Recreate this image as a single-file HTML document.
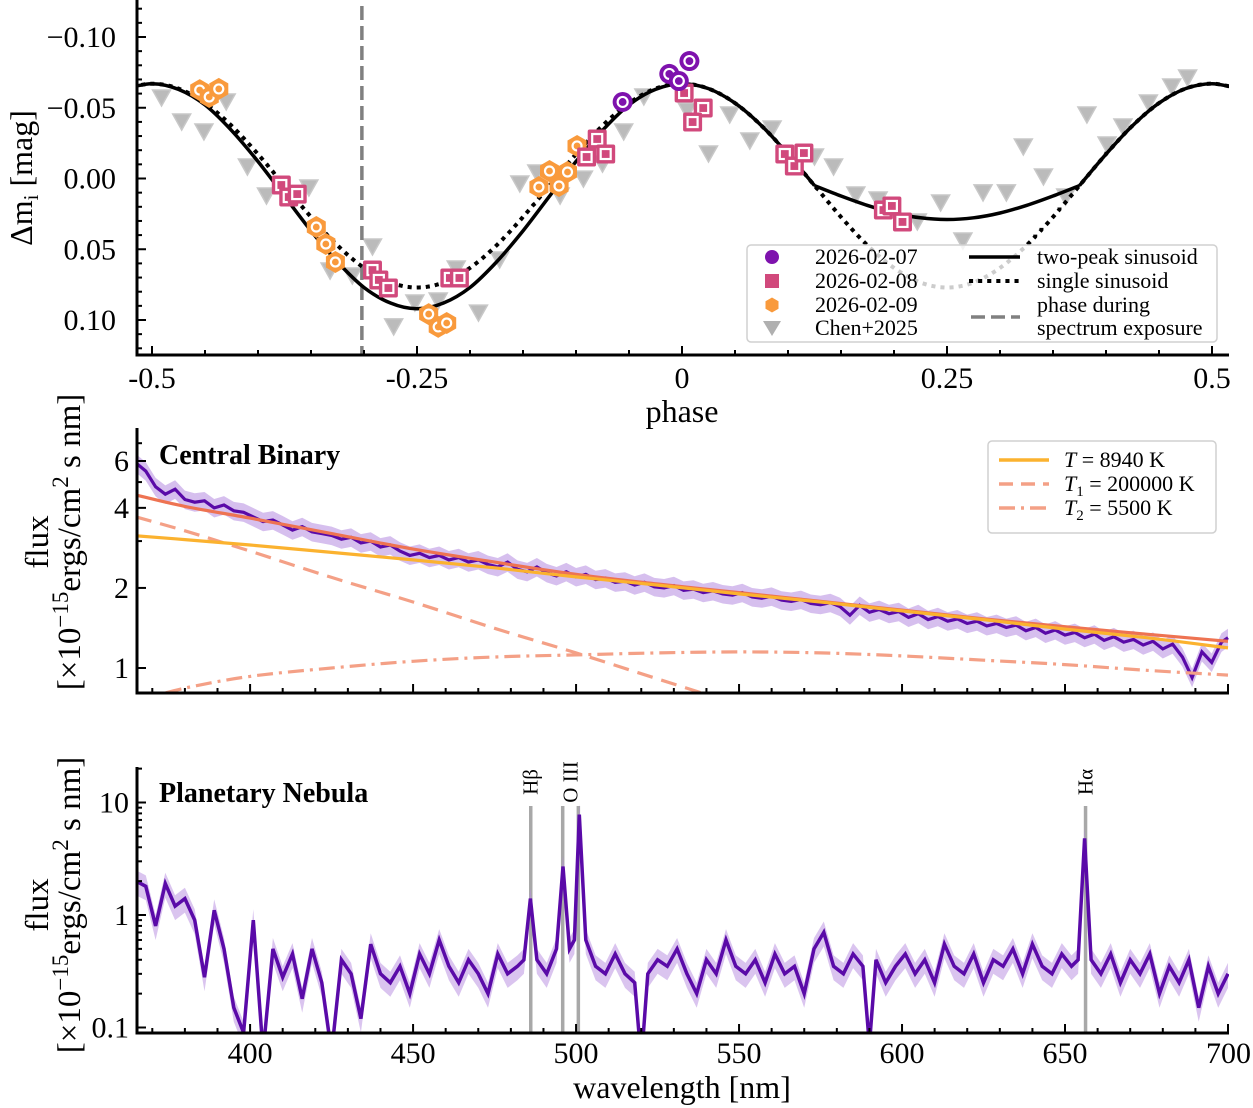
<!DOCTYPE html>
<html><head><meta charset="utf-8">
<style>
html,body{margin:0;padding:0;background:#fff;}
svg{display:block;font-family:"Liberation Serif",serif;}
</style></head>
<body>
<svg id="fig" width="1253" height="1108" viewBox="0 0 1253 1108" xmlns="http://www.w3.org/2000/svg">
<defs>
<clipPath id="clipTop"><rect x="137" y="0" width="1092" height="355"/></clipPath>
<clipPath id="clipMid"><rect x="137" y="428" width="1092" height="265"/></clipPath>
<clipPath id="clipBot"><rect x="137" y="767" width="1092" height="266"/></clipPath>
</defs>
<g id="topPanel"></g>
<g id="midPanel"></g>
<g id="botPanel"></g>
</svg>
<script>
// ---------- Light curve data ----------
const curvePhase = [-0.525,-0.5,-0.475,-0.45,-0.425,-0.4,-0.375,-0.35,-0.325,-0.3,-0.275,-0.25,-0.225,-0.2,-0.175,-0.15,-0.125,-0.1,-0.075,-0.05,-0.025,0,0.025,0.05,0.075,0.1,0.125,0.15,0.175,0.2,0.225,0.25,0.275,0.3,0.325,0.35,0.375,0.4,0.425,0.45,0.475,0.5,0.525];
const twoPeak = [-0.0635,-0.067,-0.063,-0.052,-0.034,-0.012,0.0125,0.037,0.059,0.077,0.088,0.092,0.088,0.077,0.059,0.037,0.0125,-0.012,-0.034,-0.052,-0.063,-0.067,-0.0635,-0.0533,-0.0373,-0.0172,0.005,0.0124,0.019,0.0244,0.0278,0.029,0.0278,0.0244,0.019,0.0124,0.005,-0.0172,-0.0373,-0.0533,-0.0635,-0.067,-0.0635];
const singleSin = [-0.0635,-0.067,-0.0635,-0.0533,-0.0373,-0.0172,0.005,0.0272,0.0473,0.0632,0.0735,0.077,0.0735,0.0632,0.0473,0.0272,0.005,-0.0172,-0.0373,-0.0533,-0.0635,-0.067,-0.0635,-0.0533,-0.0373,-0.0172,0.005,0.0272,0.0473,0.0632,0.0735,0.077,0.0735,0.0632,0.0473,0.0272,0.005,-0.0172,-0.0373,-0.0533,-0.0635,-0.067,-0.0635];
const spectrumPhase = -0.302;
const d07Phase = [-0.056,-0.012,-0.003,0.007];
const d07Mag = [-0.0541,-0.0739,-0.0689,-0.0830];
const d08Phase = [-0.378,-0.371,-0.363,-0.292,-0.286,-0.277,-0.219,-0.210,-0.090,-0.080,-0.072,0.002,0.020,0.010,0.097,0.106,0.115,0.190,0.198,0.208];
const d08Mag = [0.0046,0.0131,0.0110,0.0647,0.0717,0.0774,0.0703,0.0703,-0.0152,-0.0279,-0.0173,-0.0604,-0.0498,-0.0399,-0.0173,-0.0088,-0.0180,0.0223,0.0194,0.0307];
const d09Phase = [-0.455,-0.446,-0.437,-0.345,-0.336,-0.327,-0.239,-0.230,-0.222,-0.135,-0.125,-0.116,-0.108,-0.099];
const d09Mag = [-0.0625,-0.0576,-0.0633,0.0343,0.0463,0.0590,0.0958,0.1049,0.1021,0.0060,-0.0053,0.0053,-0.0046,-0.0230];
const chenPhase = [-0.491,-0.472,-0.451,-0.430,-0.410,-0.392,-0.352,-0.332,-0.311,-0.292,-0.272,-0.252,-0.230,-0.213,-0.192,-0.172,-0.153,-0.137,-0.115,-0.093,-0.075,-0.055,-0.036,0.005,0.025,0.045,0.064,0.085,0.125,0.143,0.164,0.185,0.222,0.244,0.265,0.284,0.306,0.322,0.341,0.362,0.382,0.401,0.416,0.440,0.462,0.477];
const chenMag = [-0.0569,-0.0399,-0.0329,-0.0541,-0.0081,0.0124,0.0067,0.0654,0.0689,0.0484,0.1049,0.0880,0.0866,0.0640,0.0951,0.0576,0.0039,-0.0039,0.0124,0.0004,-0.0102,-0.0329,-0.0576,-0.0477,-0.0173,-0.0449,-0.0265,-0.0350,-0.0152,-0.0081,0.0117,0.0152,0.0307,0.0173,0.0442,0.0102,0.0102,-0.0223,-0.0011,0.0131,-0.0449,-0.0237,-0.0364,-0.0534,-0.0647,-0.0710];
const phaseTicks = [-0.5,-0.25,0,0.25,0.5];
const phaseTickLabels = ["-0.5","-0.25","0","0.25","0.5"];
const magTicks = [-0.10,-0.05,0,0.05,0.10];
const magTickLabels = ["\u22120.10","\u22120.05","0.00","0.05","0.10"];

// ---------- Central binary data ----------
const modelWl = [365,380,400,425,450,475,500,525,550,575,600,625,650,675,700];
const modelSum = [4.47,4.05,3.66,3.2,2.8,2.5,2.25,2.07,1.92,1.78,1.65,1.53,1.43,1.34,1.26];
const modelT = [3.14,3.04,2.9,2.72,2.55,2.38,2.2,2.05,1.9,1.77,1.64,1.52,1.4,1.3,1.19];
const modelT1 = [3.7,3.28,2.75,2.19,1.77,1.41,1.14,0.91,0.73,0.6,0.5,0.4,0.33,0.27,0.22];
const modelT2 = [0.75,0.84,0.93,1.0,1.06,1.1,1.12,1.14,1.15,1.14,1.11,1.07,1.03,0.98,0.94];
const cbWl = [365,368,371,374,377,380,383,386,389,392,395,398,401,404,407,410,413,416,419,422,425,428,431,434,437,440,443,446,449,452,455,458,461,464,467,470,473,476,479,482,485,488,491,494,497,500,503,506,509,512,515,518,521,524,527,530,533,536,539,542,545,548,551,554,557,560,563,566,569,572,575,578,581,584,587,590,593,596,599,602,605,608,611,614,617,620,623,626,629,632,635,638,641,644,647,650,653,656,659,662,665,668,671,674,677,680,683,686,689,692,695,698,700];
const cbFlux = [5.9,5.5,4.8,4.5,4.7,4.3,4.2,4.25,4.0,4.1,3.9,3.85,3.7,3.55,3.6,3.45,3.3,3.4,3.25,3.2,3.15,3.05,3.1,2.95,3.0,2.85,2.9,2.75,2.65,2.7,2.6,2.65,2.55,2.6,2.5,2.55,2.45,2.4,2.5,2.35,2.3,2.4,2.28,2.22,2.3,2.2,2.25,2.15,2.18,2.1,2.12,2.05,2.1,2.02,2.0,2.04,1.96,1.98,1.92,1.95,1.9,1.88,1.92,1.85,1.83,1.86,1.8,1.78,1.81,1.75,1.73,1.76,1.7,1.58,1.72,1.62,1.66,1.6,1.63,1.55,1.6,1.52,1.56,1.5,1.53,1.47,1.5,1.44,1.47,1.42,1.45,1.38,1.42,1.35,1.39,1.33,1.36,1.3,1.34,1.27,1.31,1.25,1.28,1.22,1.26,1.18,1.23,1.1,0.92,1.15,1.05,1.25,1.3];
const cbErrFrac = 0.08;
const cbTicks = [1,2,4,6];
const cbTickLabels = ["1","2","4","6"];

// ---------- Nebula data ----------
const nebWl = [365,368,371,374,377,380,383,386,389,392,395,398,401,404,407,410,413,416,419,422,425,428,431,434,437,440,443,446,449,452,455,458,461,464,467,470,473,476,479,482,484,486,488,491,494,496,498,499.5,501,503,506,509,512,515,518,520,522,525,528,531,534,537,540,543,546,549,552,555,558,561,564,567,570,573,576,579,582,585,588,590,592,595,598,601,604,607,610,613,616,619,622,625,628,631,634,637,640,643,646,649,652,654,656,658,661,664,667,670,673,676,679,682,685,688,691,694,697,700];
const nebFlux = [2.0,1.8,0.8,1.9,1.2,1.4,0.9,0.28,1.1,0.5,0.15,0.09,0.9,0.06,0.5,0.28,0.45,0.18,0.5,0.25,0.06,0.4,0.3,0.12,0.55,0.3,0.25,0.35,0.2,0.45,0.3,0.6,0.35,0.25,0.4,0.3,0.2,0.45,0.3,0.35,0.4,1.4,0.4,0.3,0.5,2.7,0.5,0.6,7.8,0.6,0.35,0.3,0.45,0.3,0.25,0.05,0.3,0.4,0.35,0.5,0.3,0.2,0.4,0.3,0.6,0.35,0.3,0.4,0.25,0.45,0.3,0.35,0.2,0.5,0.7,0.35,0.3,0.45,0.35,0.07,0.4,0.25,0.35,0.45,0.3,0.4,0.25,0.55,0.35,0.3,0.45,0.25,0.4,0.35,0.5,0.3,0.55,0.35,0.3,0.45,0.35,0.4,4.8,0.4,0.3,0.45,0.25,0.4,0.3,0.45,0.2,0.35,0.25,0.4,0.15,0.35,0.2,0.3];
const nebErrFrac = 0.25;
const lineWl = [486.1,495.9,500.7,656.3];
const lineLabelWl = [486.1,498.3,656.3];
const lineLabels = ["H\u03b2","O III","H\u03b1"];
const nebTicks = [0.1,1,10];
const nebTickLabels = ["0.1","1","10"];
const wlTicks = [400,450,500,550,600,650,700];
const wlTickLabels = ["400","450","500","550","600","650","700"];

// ---------- scales ----------
const px = p => 682 + 1060*p;
const py = m => 178.5 + 1415*m;
const wx = l => 136 + (l-365)*3.2597;
const my = f => 668 - 266*Math.log10(f);
const by = f => 915 - 112.5*Math.log10(f);

const NS = "http://www.w3.org/2000/svg";
function mk(tag, parent){ const el=document.createElementNS(NS,tag); parent.appendChild(el); return el; }
function smooth(pts){
  let d="M"+pts[0][0].toFixed(1)+","+pts[0][1].toFixed(1);
  for(let i=0;i<pts.length-1;i++){
    const p0=pts[Math.max(0,i-1)],p1=pts[i],p2=pts[i+1],p3=pts[Math.min(pts.length-1,i+2)];
    const c1=[p1[0]+(p2[0]-p0[0])/6,p1[1]+(p2[1]-p0[1])/6];
    const c2=[p2[0]-(p3[0]-p1[0])/6,p2[1]-(p3[1]-p1[1])/6];
    d+="C"+c1[0].toFixed(1)+","+c1[1].toFixed(1)+" "+c2[0].toFixed(1)+","+c2[1].toFixed(1)+" "+p2[0].toFixed(1)+","+p2[1].toFixed(1);
  }
  return d;
}
function poly(pts){ return "M"+pts.map(p=>p[0].toFixed(1)+","+p[1].toFixed(1)).join("L"); }
function txt(parent,x,y,s,size,anchor){
  const el=mk("text",parent); el.setAttribute("x",x); el.setAttribute("y",y);
  el.setAttribute("font-size",size); el.setAttribute("text-anchor",anchor||"middle"); el.textContent=s; return el;
}
const TICKFS = 30;

// ================= TOP PANEL =================
const topG=document.getElementById("topPanel");
const topPlot=mk("g",topG); topPlot.setAttribute("clip-path","url(#clipTop)");



chenPhase.forEach((p,i)=>{
  const x=px(p), y=py(chenMag[i]);
  const el=mk("path",topPlot);
  el.setAttribute("d",`M${x-9},${y-8}L${x+9},${y-8}L${x},${y+8}Z`);
  el.setAttribute("fill","#aaaaaa"); el.setAttribute("fill-opacity","0.8");
  el.setAttribute("stroke","#c8c8c8"); el.setAttribute("stroke-width","1.5");
  
  
});
const vl=mk("line",topPlot);
vl.setAttribute("x1",px(spectrumPhase)); vl.setAttribute("x2",px(spectrumPhase));
vl.setAttribute("y1",6); vl.setAttribute("y2",355);
vl.setAttribute("stroke","#808080"); vl.setAttribute("stroke-width","3.5"); vl.setAttribute("stroke-dasharray","14,6");


const sPath=mk("path",topPlot);
sPath.setAttribute("d",smooth(curvePhase.map((p,i)=>[px(p),py(singleSin[i])])));
sPath.setAttribute("fill","none"); sPath.setAttribute("stroke","#000"); sPath.setAttribute("stroke-width","4");
sPath.setAttribute("stroke-dasharray","0.1,9"); sPath.setAttribute("stroke-linecap","square");


const tPts=curvePhase.map((p,i)=>[px(p),py(twoPeak[i])]);
const tPath=mk("path",topPlot);
tPath.setAttribute("d",smooth(tPts.slice(0,27))+smooth(tPts.slice(26,37))+smooth(tPts.slice(36)));
tPath.setAttribute("fill","none"); tPath.setAttribute("stroke","#000"); tPath.setAttribute("stroke-width","3.5");



function hexPath(x,y,r){ let d=""; for(let k=0;k<6;k++){const a=Math.PI/3*k+Math.PI/6; d+=(k?"L":"M")+(x+r*Math.cos(a)).toFixed(1)+","+(y+r*Math.sin(a)).toFixed(1);} return d+"Z"; }
d09Phase.forEach((p,i)=>{
  const x=px(p), y=py(d09Mag[i]);
  const h=mk("path",topPlot); h.setAttribute("d",hexPath(x,y,11)); h.setAttribute("fill","#f99a3c");
  
  
  const c=mk("circle",topPlot); c.setAttribute("cx",x); c.setAttribute("cy",y); c.setAttribute("r",4.5);
  c.setAttribute("fill","#f99a3c"); c.setAttribute("stroke","#fff"); c.setAttribute("stroke-width","2.2");
  
  
});
d08Phase.forEach((p,i)=>{
  const x=px(p), y=py(d08Mag[i]);
  const s=mk("rect",topPlot); s.setAttribute("x",x-9.5); s.setAttribute("y",y-9.5); s.setAttribute("width",19); s.setAttribute("height",19);
  s.setAttribute("rx",2); s.setAttribute("fill","#d1497c");
  
  
  const s2=mk("rect",topPlot); s2.setAttribute("x",x-5); s2.setAttribute("y",y-5); s2.setAttribute("width",10); s2.setAttribute("height",10);
  s2.setAttribute("fill","#d1497c"); s2.setAttribute("stroke","#fff"); s2.setAttribute("stroke-width","2.2");
  
  
});
d07Phase.forEach((p,i)=>{
  const x=px(p), y=py(d07Mag[i]);
  const c=mk("circle",topPlot); c.setAttribute("cx",x); c.setAttribute("cy",y); c.setAttribute("r",10);
  c.setAttribute("fill","#7e12ad");
  
  
  const c2=mk("circle",topPlot); c2.setAttribute("cx",x); c2.setAttribute("cy",y); c2.setAttribute("r",5);
  c2.setAttribute("fill","#7e12ad"); c2.setAttribute("stroke","#fff"); c2.setAttribute("stroke-width","2.2");
  
  
});

function spines(g,x0,x1,y0,y1,name){
  const a=mk("path",g); a.setAttribute("d",`M${x0},${y0}L${x0},${y1}L${x1},${y1}`);
  a.setAttribute("fill","none"); a.setAttribute("stroke","#000"); a.setAttribute("stroke-width","3");
  
  
}
function tick(g,x1,y1,x2,y2,name){
  const el=mk("line",g); el.setAttribute("x1",x1); el.setAttribute("y1",y1); el.setAttribute("x2",x2); el.setAttribute("y2",y2);
  el.setAttribute("stroke","#000"); el.setAttribute("stroke-width","2");
  
  
}
spines(topG,137,1229,0,355,'light-curve-axes');
phaseTicks.forEach((p,i)=>{
  tick(topG,px(p),355,px(p),346,'x-major-tick');
  const el=txt(topG,px(p),388,phaseTickLabels[i],TICKFS);
  
  
});
for(let k=-10;k<=10;k++){ const p=k*0.05; if(k%5!==0) tick(topG,px(p),355,px(p),350,'x-minor-tick'); }
magTicks.forEach((m,i)=>{
  tick(topG,137,py(m),146,py(m),'y-major-tick');
  const el=txt(topG,116,py(m)+10,magTickLabels[i],TICKFS,"end");
  
  
});
for(let k=-12;k<=12;k++){ if(k%5!==0){ const m=k*0.01; tick(topG,137,py(m),142,py(m),'y-minor-tick'); } }
const xl=txt(topG,682,422,"phase",32);


const yl=mk("text",topG); yl.setAttribute("transform","translate(32,178) rotate(-90)"); yl.setAttribute("text-anchor","middle"); yl.setAttribute("font-size","32");
yl.innerHTML='\u0394m<tspan font-size="21" dy="6">i</tspan><tspan dy="-6"> [mag]</tspan>';



const lg=mk("g",topG);


const lb=mk("rect",lg); lb.setAttribute("x",747); lb.setAttribute("y",245); lb.setAttribute("width",470); lb.setAttribute("height",97); lb.setAttribute("rx",4);
lb.setAttribute("fill","#fff"); lb.setAttribute("fill-opacity","0.8"); lb.setAttribute("stroke","#d0d0d0"); lb.setAttribute("stroke-width","1.5");


const rows=[257,281,305,328];
let lm=mk("circle",lg); lm.setAttribute("cx",772); lm.setAttribute("cy",rows[0]); lm.setAttribute("r",7); lm.setAttribute("fill","#7e12ad");


lm=mk("rect",lg); lm.setAttribute("x",765); lm.setAttribute("y",rows[1]-7); lm.setAttribute("width",14); lm.setAttribute("height",14); lm.setAttribute("fill","#d1497c");


lm=mk("path",lg); lm.setAttribute("d",hexPath(772,rows[2],7.5)); lm.setAttribute("fill","#f99a3c");


lm=mk("path",lg); lm.setAttribute("d",`M763,${rows[3]-7}L781,${rows[3]-7}L772,${rows[3]+8}Z`); lm.setAttribute("fill","#b0b0b0");


["2026-02-07","2026-02-08","2026-02-09","Chen+2025"].forEach((s,i)=>{
  const el=txt(lg,815,rows[i]+7,s,22,"start");
  
  
});
lm=mk("line",lg); lm.setAttribute("x1",969); lm.setAttribute("x2",1020); lm.setAttribute("y1",rows[0]); lm.setAttribute("y2",rows[0]); lm.setAttribute("stroke","#000"); lm.setAttribute("stroke-width","3.5");


lm=mk("line",lg); lm.setAttribute("x1",971); lm.setAttribute("x2",1020); lm.setAttribute("y1",rows[1]); lm.setAttribute("y2",rows[1]); lm.setAttribute("stroke","#000"); lm.setAttribute("stroke-width","4"); lm.setAttribute("stroke-dasharray","0.1,9"); lm.setAttribute("stroke-linecap","square");


lm=mk("line",lg); lm.setAttribute("x1",971); lm.setAttribute("x2",1020); lm.setAttribute("y1",317); lm.setAttribute("y2",317); lm.setAttribute("stroke","#808080"); lm.setAttribute("stroke-width","3.5"); lm.setAttribute("stroke-dasharray","14,6");


["two-peak sinusoid","single sinusoid","phase during","spectrum exposure"].forEach((s,i)=>{
  const el=txt(lg,1037,rows[i]+7,s,22,"start");
  
  
});

// ================= MIDDLE PANEL =================
const midG=document.getElementById("midPanel");
const midPlot=mk("g",midG); midPlot.setAttribute("clip-path","url(#clipMid)");


const band=mk("path",midPlot);
band.setAttribute("d",poly(cbWl.map((l,i)=>[wx(l),my(cbFlux[i]*(1+cbErrFrac))]).concat(cbWl.map((l,i)=>[wx(l),my(cbFlux[i]*(1-cbErrFrac))]).reverse()))+"Z");
band.setAttribute("fill","#b58ae0"); band.setAttribute("fill-opacity","0.55");


const cbLine=mk("path",midPlot);
cbLine.setAttribute("d",poly(cbWl.map((l,i)=>[wx(l),my(cbFlux[i])])));
cbLine.setAttribute("fill","none"); cbLine.setAttribute("stroke","#5a0aa8"); cbLine.setAttribute("stroke-width","3.2");


function modelLine(arr,color,dash,w,name){
  const p=mk("path",midPlot);
  p.setAttribute("d",smooth(modelWl.map((l,i)=>[wx(l),my(arr[i])])));
  p.setAttribute("fill","none"); p.setAttribute("stroke",color); p.setAttribute("stroke-width",w);
  if(dash) p.setAttribute("stroke-dasharray",dash);
  
  
}
modelLine(modelT1,"#f4a086","16,9",3.2,'t1-blackbody-curve');
modelLine(modelT2,"#f4a086","16,6,3,6",3.2,'t2-blackbody-curve');
modelLine(modelSum,"#ee7352",null,3.2,'two-component-sum-curve');
modelLine(modelT,"#fbb22f",null,3.2,'single-blackbody-curve');

spines(midG,137,1229,428,693,'central-binary-axes');
for(let l=370;l<=700;l+=10){ const major=(l%50===0); tick(midG,wx(l),693,wx(l),major?684:688,major?'x-major-tick':'x-minor-tick'); }
cbTicks.forEach((f,i)=>{
  tick(midG,137,my(f),146,my(f),'y-major-tick');
  const el=txt(midG,129,my(f)+10,cbTickLabels[i],TICKFS,"end");
  
  
});
[3,5,7].forEach(f=>tick(midG,137,my(f),142,my(f),'y-minor-tick'));
let ttl=txt(midG,159,464,"Central Binary",28,"start"); ttl.setAttribute("font-weight","bold");


function ylabel(g,cy,name){
  const a=mk("text",g); a.setAttribute("transform",`translate(48,${cy}) rotate(-90)`); a.setAttribute("text-anchor","middle"); a.setAttribute("font-size","33"); a.textContent="flux";
  
  
  const b=mk("text",g); b.setAttribute("transform",`translate(80,${cy}) rotate(-90)`); b.setAttribute("text-anchor","middle"); b.setAttribute("font-size","33");
  b.innerHTML='[\u00d710<tspan font-size="23" dy="-12">\u221215</tspan><tspan dy="12">ergs/cm</tspan><tspan font-size="23" dy="-12">2</tspan><tspan dy="12"> s nm]</tspan>';
  
  
}
ylabel(midG,542,'central-binary-y-axis-title');
const lg2=mk("g",midG);


const lb2=mk("rect",lg2); lb2.setAttribute("x",988); lb2.setAttribute("y",441); lb2.setAttribute("width",228); lb2.setAttribute("height",92); lb2.setAttribute("rx",4);
lb2.setAttribute("fill","#fff"); lb2.setAttribute("fill-opacity","0.8"); lb2.setAttribute("stroke","#d0d0d0"); lb2.setAttribute("stroke-width","1.5");


const r2=[460,484,508];
[["#fbb22f",null],["#f4a086","14,8"],["#f4a086","16,6,3,6"]].forEach((c,i)=>{
  const l=mk("line",lg2); l.setAttribute("x1",999); l.setAttribute("x2",1049); l.setAttribute("y1",r2[i]); l.setAttribute("y2",r2[i]);
  l.setAttribute("stroke",c[0]); l.setAttribute("stroke-width","3.5"); if(c[1]) l.setAttribute("stroke-dasharray",c[1]);
  
  
});
const legTexts=['<tspan font-style="italic">T</tspan> = 8940 K','<tspan font-style="italic">T</tspan><tspan font-size="15" dy="5">1</tspan><tspan dy="-5"> = 200000 K</tspan>','<tspan font-style="italic">T</tspan><tspan font-size="15" dy="5">2</tspan><tspan dy="-5"> = 5500 K</tspan>'];
legTexts.forEach((s,i)=>{
  const el=mk("text",lg2); el.setAttribute("x",1064); el.setAttribute("y",r2[i]+7); el.setAttribute("font-size","22"); el.innerHTML=s;
  
  
});

// ================= BOTTOM PANEL =================
const botG=document.getElementById("botPanel");
const botPlot=mk("g",botG); botPlot.setAttribute("clip-path","url(#clipBot)");


lineWl.forEach(l=>{
  const v=mk("line",botPlot); v.setAttribute("x1",wx(l)); v.setAttribute("x2",wx(l)); v.setAttribute("y1",806); v.setAttribute("y2",1033);
  v.setAttribute("stroke","#a8a8a8"); v.setAttribute("stroke-width","3.5");
  
  
});
const band2=mk("path",botPlot);
band2.setAttribute("d",poly(nebWl.map((l,i)=>[wx(l),by(nebFlux[i]*(1+nebErrFrac))]).concat(nebWl.map((l,i)=>[wx(l),by(nebFlux[i]*(1-nebErrFrac))]).reverse()))+"Z");
band2.setAttribute("fill","#b58ae0"); band2.setAttribute("fill-opacity","0.5");


const nebLine=mk("path",botPlot);
nebLine.setAttribute("d",poly(nebWl.map((l,i)=>[wx(l),by(nebFlux[i])])));
nebLine.setAttribute("fill","none"); nebLine.setAttribute("stroke","#5a0aa8"); nebLine.setAttribute("stroke-width","3.5");


lineLabelWl.forEach((l,i)=>{
  const a=mk("text",botG); a.setAttribute("transform",`translate(${wx(l)+7},782) rotate(-90)`); a.setAttribute("text-anchor","middle"); a.setAttribute("font-size","21"); a.textContent=lineLabels[i];
  
  
});
spines(botG,137,1229,767,1033,'nebula-axes');
for(let l=370;l<=700;l+=10){ const major=(l%50===0); tick(botG,wx(l),1033,wx(l),major?1024:1028,major?'x-major-tick':'x-minor-tick'); }
wlTicks.forEach((l,i)=>{
  const el=txt(botG,wx(l),1063,wlTickLabels[i],TICKFS, l===700?"end":"middle");
  if(l===700) el.setAttribute("x",1251);
  
  
});
nebTicks.forEach((f,i)=>{
  tick(botG,137,by(f),146,by(f),'y-major-tick');
  const el=txt(botG,129,by(f)+10,nebTickLabels[i],TICKFS,"end");
  
  
});
[0.2,0.3,0.4,0.5,0.6,0.7,0.8,0.9,2,3,4,5,6,7,8,9,20].forEach(f=>tick(botG,137,by(f),142,by(f),'y-minor-tick'));
ttl=txt(botG,159,802,"Planetary Nebula",28,"start"); ttl.setAttribute("font-weight","bold");


ylabel(botG,905,'nebula-y-axis-title');
ttl=txt(botG,682,1098,"wavelength [nm]",32);


</script>
</body></html>
